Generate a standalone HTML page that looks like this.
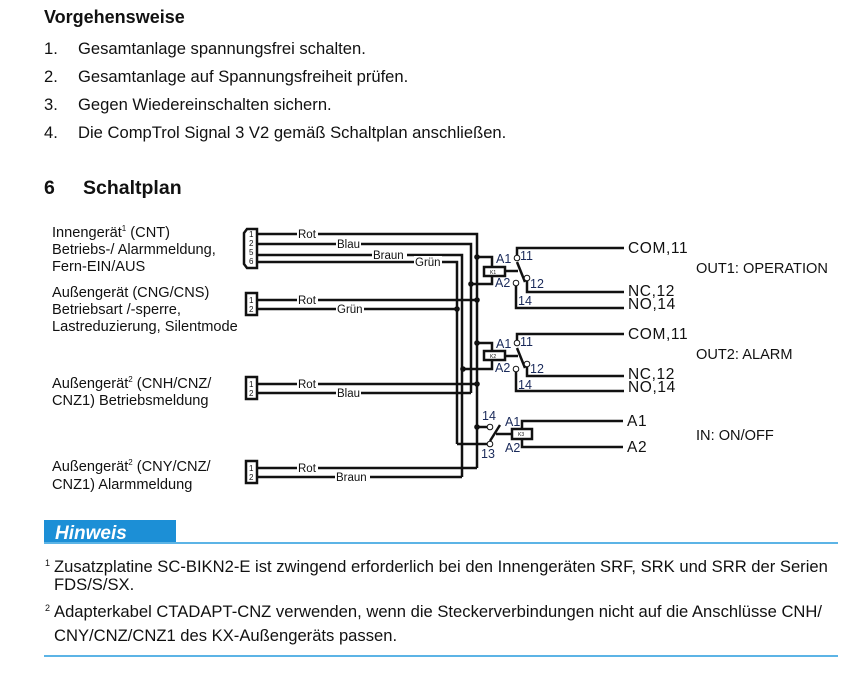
<!DOCTYPE html>
<html><head><meta charset="utf-8"><style>
html,body{margin:0;padding:0;background:#fff;}
svg{display:block;font-family:"Liberation Sans",Arial,sans-serif;}
</style></head><body>
<svg width="863" height="677" viewBox="0 0 863 677" xmlns="http://www.w3.org/2000/svg">
<g fill="#111">
<text x="44" y="23" font-size="18" font-weight="bold">Vorgehensweise</text>
<g font-size="16.6">
<text x="44" y="54">1.</text><text x="78" y="54">Gesamtanlage spannungsfrei schalten.</text>
<text x="44" y="82">2.</text><text x="78" y="82">Gesamtanlage auf Spannungsfreiheit prüfen.</text>
<text x="44" y="110">3.</text><text x="78" y="110">Gegen Wiedereinschalten sichern.</text>
<text x="44" y="138">4.</text><text x="78" y="138">Die CompTrol Signal 3 V2 gemäß Schaltplan anschließen.</text>
</g>
<text x="44" y="194" font-size="19.5" font-weight="bold">6</text>
<text x="83" y="194" font-size="19.5" font-weight="bold">Schaltplan</text>

<g font-size="14.6">
<text x="52" y="237">Innengerät<tspan font-size="8" dy="-6">1</tspan><tspan dy="6"> (CNT)</tspan></text>
<text x="52" y="254">Betriebs-/ Alarmmeldung,</text>
<text x="52" y="271">Fern-EIN/AUS</text>
<text x="52" y="297">Außengerät (CNG/CNS)</text>
<text x="52" y="314">Betriebsart /-sperre,</text>
<text x="52" y="331">Lastreduzierung, Silentmode</text>
<text x="52" y="388">Außengerät<tspan font-size="8" dy="-6">2</tspan><tspan dy="6"> (CNH/CNZ/</tspan></text>
<text x="52" y="405">CNZ1) Betriebsmeldung</text>
<text x="52" y="471">Außengerät<tspan font-size="8" dy="-6">2</tspan><tspan dy="6"> (CNY/CNZ/</tspan></text>
<text x="52" y="489">CNZ1) Alarmmeldung</text>
<text x="696" y="273">OUT1: OPERATION</text>
<text x="696" y="359">OUT2: ALARM</text>
<text x="696" y="440">IN: ON/OFF</text>
</g>
</g>

<g stroke="#111" stroke-width="2.5" fill="none">
<path d="M256 234H477V468"/>
<path d="M256 244H471V393"/>
<path d="M256 255H462V477"/>
<path d="M256 262H457V444"/>
<path d="M256 300H477"/>
<path d="M256 309H457"/>
<path d="M256 384H477"/>
<path d="M256 393H471"/>
<path d="M256 468H477"/>
<path d="M256 477H462"/>
<path d="M477 257H492V267"/><path d="M471 284H492V276"/>
<path d="M505 271H518"/>
<path d="M517 255V248H624"/><path d="M517 262L525 282"/>
<path d="M527 281V292H624"/><path d="M516 286V308H624"/>
<path d="M477 343H492V350"/><path d="M463 369H492V361"/>
<path d="M505 356H518"/>
<path d="M517 341V334H624"/><path d="M517 348L525 368"/>
<path d="M527 367V376H624"/><path d="M516 372V391H624"/>
<path d="M477 427H488"/><path d="M457 444H488"/>
<path d="M490 441L500 425"/><path d="M496 434H512"/>
<path d="M522 429V421H623"/><path d="M522 439V447H623"/>
</g>
<g stroke="#111" stroke-width="2.5" fill="#fff">
<rect x="484" y="267" width="21" height="9"/>
<rect x="484" y="351" width="21" height="9"/>
<rect x="512" y="429" width="20" height="10"/>
</g>
<g font-size="5" fill="#111"><text x="490" y="274">K1</text><text x="490" y="358">K2</text><text x="518" y="436">K3</text></g>
<g stroke="#111" stroke-width="1" fill="#fff">
<circle cx="517" cy="258" r="2.8"/><circle cx="527" cy="278" r="2.8"/><circle cx="516" cy="283" r="2.8"/>
<circle cx="517" cy="343" r="2.8"/><circle cx="527" cy="364" r="2.8"/><circle cx="516" cy="369" r="2.8"/>
<circle cx="490" cy="427" r="2.8"/><circle cx="490" cy="444" r="2.8"/>
</g>
<g fill="#111">
<circle cx="477" cy="257" r="2.8"/><circle cx="471" cy="284" r="2.8"/>
<circle cx="477" cy="300" r="2.8"/><circle cx="457" cy="309" r="2.8"/>
<circle cx="477" cy="343" r="2.8"/><circle cx="463" cy="369" r="2.8"/>
<circle cx="477" cy="384" r="2.8"/><circle cx="477" cy="427" r="2.8"/>
</g>
<g font-size="12.5" fill="#1a2a5a">
<text x="496" y="263">A1</text><text x="495" y="287">A2</text>
<text x="520" y="260">11</text><text x="530" y="288">12</text><text x="518" y="305">14</text>
<text x="496" y="348">A1</text><text x="495" y="372">A2</text>
<text x="520" y="346">11</text><text x="530" y="373">12</text><text x="518" y="389">14</text>
<text x="482" y="420">14</text><text x="481" y="458">13</text>
<text x="505" y="426">A1</text><text x="505" y="452">A2</text>
</g>
<g font-size="15.5" fill="#111" letter-spacing="0.6">
<text x="628" y="253">COM,11</text><text x="628" y="296">NC,12</text><text x="628" y="309">NO,14</text>
<text x="628" y="339">COM,11</text><text x="628" y="379">NC,12</text><text x="628" y="392">NO,14</text>
<text x="627" y="426">A1</text><text x="627" y="452">A2</text>
</g>
<g font-size="11.5" fill="#111">
<g fill="#fff"><rect x="297" y="229" width="21" height="10"/><rect x="336" y="239" width="25" height="10"/><rect x="372" y="250" width="35" height="10"/><rect x="414" y="256" width="28" height="11"/>
<rect x="297" y="295" width="21" height="10"/><rect x="336" y="303" width="28" height="11"/>
<rect x="297" y="379" width="21" height="10"/><rect x="336" y="388" width="25" height="10"/>
<rect x="297" y="463" width="21" height="10"/><rect x="335" y="472" width="35" height="10"/></g>
<text x="298" y="238">Rot</text><text x="337" y="248">Blau</text><text x="373" y="259">Braun</text><text x="415" y="266">Grün</text>
<text x="298" y="304">Rot</text><text x="337" y="313">Grün</text>
<text x="298" y="388">Rot</text><text x="337" y="397">Blau</text>
<text x="298" y="472">Rot</text><text x="336" y="481">Braun</text>
</g>
<g stroke="#111" stroke-width="2.5" fill="#fff">
<path d="M247 229H257V268H247L244 264V233Z"/>
<rect x="246" y="293" width="11" height="22"/>
<rect x="246" y="377" width="11" height="22"/>
<rect x="246" y="461" width="11" height="22"/>
</g>
<g font-size="8" fill="#111">
<text x="249" y="237">1</text><text x="249" y="246">2</text><text x="249" y="255">5</text><text x="249" y="264">6</text>
<text x="249" y="303">1</text><text x="249" y="312">2</text>
<text x="249" y="387">1</text><text x="249" y="396">2</text>
<text x="249" y="471">1</text><text x="249" y="480">2</text>
</g>

<rect x="44" y="520" width="132" height="23" fill="#1c8fd6"/>
<rect x="44" y="542" width="794" height="2" fill="#5cb4e6"/>
<text x="55" y="539" font-size="19" font-weight="bold" font-style="italic" fill="#fff">Hinweis</text>
<g font-size="16.6" fill="#111">
<text x="45" y="566" font-size="9">1</text>
<text x="54" y="572">Zusatzplatine SC-BIKN2-E ist zwingend erforderlich bei den Innengeräten SRF, SRK und SRR der Serien</text>
<text x="54" y="590">FDS/S/SX.</text>
<text x="45" y="611" font-size="9">2</text>
<text x="54" y="617">Adapterkabel CTADAPT-CNZ verwenden, wenn die Steckerverbindungen nicht auf die Anschlüsse CNH/</text>
<text x="54" y="641">CNY/CNZ/CNZ1 des KX-Außengeräts passen.</text>
</g>
<rect x="44" y="655" width="794" height="2" fill="#5cb4e6"/>
</svg>
</body></html>
